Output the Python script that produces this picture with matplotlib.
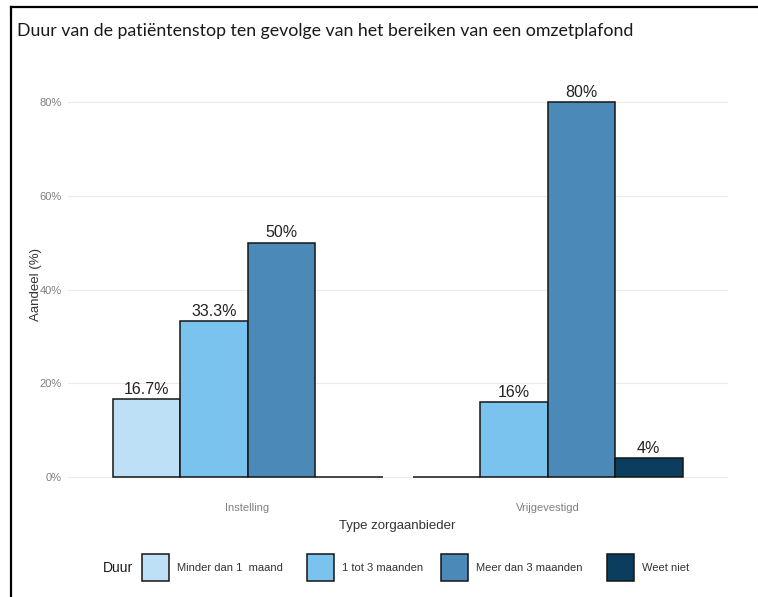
import matplotlib
matplotlib.use("Agg")
import matplotlib.pyplot as plt
from matplotlib.patches import Rectangle
from matplotlib.lines import Line2D

# data
groups = ["Instelling", "Vrijgevestigd"]
duur = ["Minder dan 1  maand", "1 tot 3 maanden", "Meer dan 3 maanden", "Weet niet"]
minder_1 = [16.7, 0]
tot_3 = [33.3, 16]
meer_3 = [50, 80]
weet_niet = [0, 4]
colors = ["#BDE0F7", "#7BC3EF", "#4A89B8", "#0B3D5E"]
yticks = [0, 20, 40, 60, 80]

W, H = 758, 597
fig = plt.figure(figsize=(W / 100, H / 100), dpi=100)
plt.rcParams['font.family'] = ['Liberation Sans', 'DejaVu Sans']

def fx(px):
    return px / W

def fy(py):
    return 1 - py / H

ax = fig.add_axes([fx(67.5), fy(496), fx(727.5) - fx(67.5), fy(83) - fy(496)])

series = [minder_1, tot_3, meer_3, weet_niet]
bw = 0.225
for i, vals in enumerate(series):
    for g in range(len(groups)):
        x = g + 1 + (i - 1.5) * bw
        ax.bar(x, vals[g], width=bw, color=colors[i], edgecolor="#151515",
               linewidth=1.1, zorder=3)
        if vals[g] > 0:
            lab = f"{vals[g]:g}%"
            ax.annotate(lab, (x, vals[g]), xytext=(0, 1.5), textcoords="offset points",
                        ha="center", va="bottom", fontsize=11.5, color="#222222")

ax.set_xlim(0.4, 2.6)
ax.set_ylim(-4, 84)
ax.set_yticks(yticks)
ax.set_yticklabels([f"{t}%" for t in yticks])
ax.set_xticks([1, 2])
ax.set_xticklabels(groups)
ax.tick_params(axis="both", length=0, labelsize=8, labelcolor="#7f7f7f")
ax.tick_params(axis="y", pad=4)
ax.tick_params(axis="x", pad=5)
ax.grid(axis="y", color="#ebebeb", linewidth=0.8, zorder=0)
for s in ax.spines.values():
    s.set_visible(False)

ax.set_ylabel("Aandeel (%)", fontsize=9.5, color="#333333")
ax.yaxis.set_label_coords(-0.039, 0.513)
ax.set_xlabel("Type zorgaanbieder", fontsize=9.5, color="#333333")
ax.xaxis.set_label_coords(0.5, -0.058)

# title, scaled to the width it has in the picture
title = fig.text(fx(17), fy(31), "Duur van de patiëntenstop ten gevolge van het bereiken van een omzetplafond",
                 ha="left", va="center", fontsize=12, color="#1a1a1a", family=["Lato", "DejaVu Sans"])
fig.canvas.draw()
tw = title.get_window_extent().width
title.set_fontsize(12 * 614 / tw)

# legend
fig.text(fx(103), fy(568), "Duur", ha="left", va="center", fontsize=10, color="#1a1a1a")
box_x = [142, 307, 441, 607]
for i in range(len(duur)):
    fig.add_artist(Rectangle((fx(box_x[i]), fy(581)), 27 / W, 27 / H, transform=fig.transFigure,
                             facecolor=colors[i], edgecolor="#151515", linewidth=1.1))
    fig.text(fx(box_x[i] + 35), fy(568), duur[i], ha="left", va="center", fontsize=8, color="#333333")

# frame of the screenshot
fig.add_artist(Line2D([fx(11), 1], [fy(7), fy(7)], transform=fig.transFigure, color="black", linewidth=1.6))
fig.add_artist(Line2D([fx(11), fx(11)], [fy(7), 0], transform=fig.transFigure, color="black", linewidth=1.6))

fig.savefig("out.png", dpi=100)
